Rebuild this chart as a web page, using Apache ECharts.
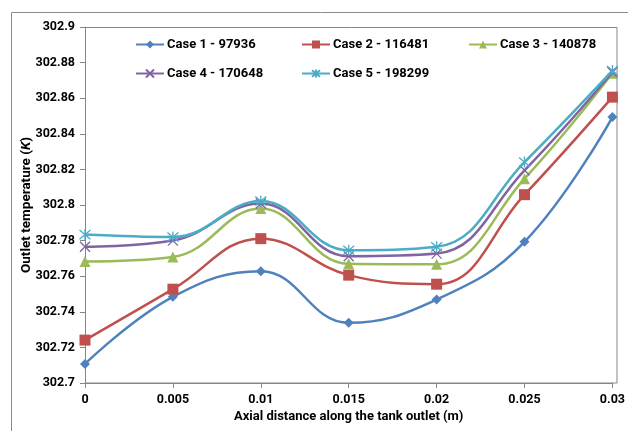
<!DOCTYPE html>
<html>
<head>
<meta charset="utf-8">
<script src="https://cdn.jsdelivr.net/npm/echarts@6/dist/echarts.min.js"></script>
<style>html,body{margin:0;padding:0;background:#fff}#c{width:628px;height:431px}</style>
</head>
<body>
<div id="c"></div>
<script>
const xValues = [0, 0.005, 0.01, 0.015, 0.02, 0.025, 0.03];
const seriesNames = ['Case 1 - 97936', 'Case 2 - 116481', 'Case 3 - 140878', 'Case 4 - 170648', 'Case 5 - 198299'];
const case1 = [302.7107, 302.7484, 302.7628, 302.7338, 302.7469, 302.7793, 302.8494];
const case2 = [302.7241, 302.7527, 302.7811, 302.7606, 302.7555, 302.8058, 302.8606];
const case3 = [302.7683, 302.7708, 302.7980, 302.7670, 302.7667, 302.8148, 302.8740];
const case4 = [302.7765, 302.7800, 302.8008, 302.7712, 302.7727, 302.8195, 302.8746];
const case5 = [302.7834, 302.7820, 302.8022, 302.7746, 302.7765, 302.8241, 302.8755];
const xTicks = ['0', '0.005', '0.01', '0.015', '0.02', '0.025', '0.03'];
const yTicks = ['302.7', '302.72', '302.74', '302.76', '302.78', '302.8', '302.82', '302.84', '302.86', '302.88', '302.9'];

const allData = [case1, case2, case3, case4, case5];
const colors = ['#4F81BD', '#C0504D', '#9BBB59', '#8064A2', '#4BACC6'];
const symbols = ['diamond', 'rect', 'triangle',
  'path://M0,0L10,10M10,0L0,10',
  'path://M0,0L10,10M10,0L0,10M5,-1L5,11'];
const symSizes = [10, 11, 11, 10, 11];
const FONT = 'Roboto';

const series = allData.map((d, i) => ({
  name: seriesNames[i],
  type: 'line',
  smooth: 0.42,
  data: d.map((v, j) => [xValues[j], v]),
  symbol: symbols[i],
  symbolSize: symSizes[i],
  showAllSymbol: true,
  color: colors[i],
  lineStyle: { width: 2.5, color: colors[i] },
  itemStyle: i >= 3 ? { color: colors[i], borderColor: colors[i], borderWidth: 1.3 } : { color: colors[i], borderWidth: 0 },
  emphasis: { disabled: true },
  z: 2 + i
}));

const legendPos = [[135, 38], [301, 38], [468, 38], [135, 67], [301, 67]];
const legends = seriesNames.map((n, i) => ({
  data: [n],
  left: legendPos[i][0],
  top: legendPos[i][1],
  itemWidth: 28,
  itemHeight: 10,
  itemGap: 0,
  padding: 0,
  textStyle: { fontFamily: FONT, fontWeight: 'bold', fontSize: 13, color: '#000', padding: [0, 0, 0, -2] },
  selectedMode: false
}));

const chart = echarts.init(document.getElementById('c'), null, { renderer: 'canvas' });
chart.setOption({
  animation: false,
  backgroundColor: '#fff',
  graphic: [{
    type: 'rect', shape: { x: 11.5, y: 12.5, width: 700, height: 500 },
    style: { fill: 'none', stroke: '#8c8c8c', lineWidth: 1 }, silent: true, z: 0
  }, {
    type: 'rect', shape: { x: 85.5, y: 27.5, width: 531.5, height: 355.5 },
    style: { fill: 'none', stroke: '#868686', lineWidth: 1 }, silent: true, z: 1
  }],
  legend: legends,
  grid: { left: 85, right: 11, top: 27, bottom: 48, containLabel: false },
  xAxis: {
    type: 'value', min: 0, max: 0.03, interval: 0.005,
    name: 'Axial distance along the tank outlet (m)',
    nameLocation: 'middle', nameGap: 27, nameMoveOverlap: false,
    nameTextStyle: { fontFamily: FONT, fontWeight: 'bold', fontSize: 13, color: '#000' },
    axisLine: { show: true, lineStyle: { color: '#868686', width: 1 } },
    axisTick: { show: true, inside: false, length: 5, lineStyle: { color: '#868686' } },
    axisLabel: {
      fontFamily: FONT, fontWeight: 'bold', fontSize: 12.5, color: '#000', margin: 10,
      formatter: v => xTicks[Math.round(v / 0.005)]
    },
    splitLine: { show: false }
  },
  yAxis: {
    type: 'value', min: 302.7, max: 302.9, interval: 0.02,
    name: '{a|Outlet temperature (}{b|K}{a|)}',
    nameLocation: 'middle', nameGap: 51, nameMoveOverlap: false,
    nameTextStyle: {
      rich: {
        a: { fontFamily: FONT, fontWeight: 'bold', fontSize: 13.5, color: '#000' },
        b: { fontFamily: FONT, fontWeight: 'bold', fontStyle: 'italic', fontSize: 13.5, color: '#000' }
      }
    },
    axisLine: { show: true, lineStyle: { color: '#868686', width: 1 } },
    axisTick: { show: true, inside: false, length: 5, lineStyle: { color: '#868686' } },
    axisLabel: {
      fontFamily: FONT, fontWeight: 'bold', fontSize: 12.5, color: '#000', margin: 10,
      formatter: v => yTicks[Math.round((v - 302.7) / 0.02)]
    },
    splitLine: { show: false }
  },
  series: series
});
</script>
</body>
</html>
